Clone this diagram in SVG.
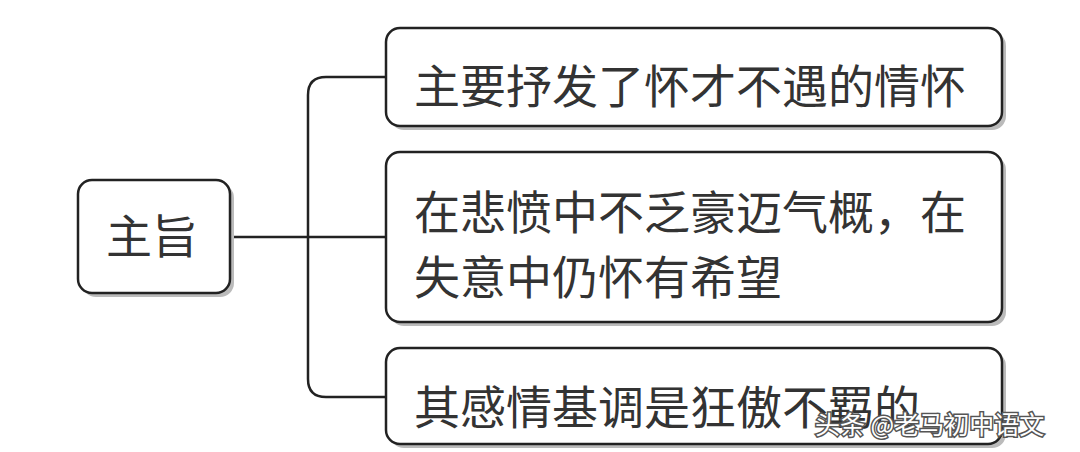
<svg xmlns="http://www.w3.org/2000/svg" width="1080" height="452" viewBox="0 0 1080 452">
<style>
.box{fill:#fff;stroke:#222;stroke-width:2.5}
.sh{fill:#bbb}
.t{font-family:"Noto Sans CJK SC",sans-serif;font-size:46px;fill:#333}
.c{fill:none;stroke:#222;stroke-width:2.5}
</style>
<rect width="1080" height="452" fill="#fff"/>
<g id="connectors">
<path class="c" d="M230 237 H386"/>
<path class="c" d="M386 77 H326 Q308 77 308 95 V379 Q308 397 326 397 H386"/>
</g>
<g id="n0"><rect class="sh" x="82" y="184" width="152" height="113" rx="14"/><rect class="box" x="78" y="180" width="152" height="113" rx="14"/><text class="t" x="152" y="253" text-anchor="middle">主旨</text></g>
<g id="n1"><rect class="sh" x="390" y="32" width="616" height="98" rx="14"/><rect class="box" x="386" y="28" width="616" height="98" rx="14"/><text class="t" x="414" y="103">主要抒发了怀才不遇的情怀</text></g>
<g id="n2"><rect class="sh" x="390" y="156" width="616" height="170" rx="14"/><rect class="box" x="386" y="152" width="616" height="170" rx="14"/><text class="t" x="414" y="229">在悲愤中不乏豪迈气概，在</text><text class="t" x="414" y="294">失意中仍怀有希望</text></g>
<g id="n3"><rect class="sh" x="390" y="352" width="616" height="96" rx="14"/><rect class="box" x="386" y="348" width="616" height="96" rx="14"/><text class="t" x="414" y="424">其感情基调是狂傲不羁的</text></g>
<text x="815" y="434" font-family="Noto Sans CJK SC,sans-serif" font-size="25" fill="#fff" stroke="#555" stroke-width="3" paint-order="stroke">头条 @老马初中语文</text>
</svg>
